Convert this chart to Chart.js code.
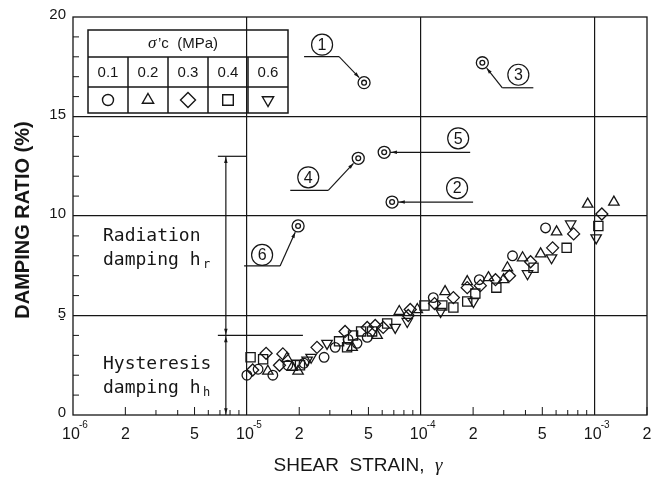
<!DOCTYPE html>
<html><head><meta charset="utf-8">
<script src="https://cdn.jsdelivr.net/npm/chart.js@4/dist/chart.umd.min.js"></script>
<style>html,body{margin:0;padding:0;background:#fff;}</style>
</head><body><canvas id="c" width="662" height="479"></canvas>
<script>
// ---------- data ----------
const stressLevels = ['0.1', '0.2', '0.3', '0.4', '0.6']; // sigma'c (MPa)

const strain01 = [1.0e-5, 1.16e-5, 1.41e-5, 1.72e-5, 2.13e-5, 2.78e-5, 3.22e-5, 3.82e-5, 4.3e-5, 4.92e-5, 1.18e-4, 2.17e-4, 3.37e-4, 5.22e-4];
const damping01 = [2.0, 2.3, 2.0, 2.5, 2.6, 2.9, 3.4, 3.8, 3.6, 3.9, 5.9, 6.8, 8.0, 9.4];

const strain02 = [1.32e-5, 1.70e-5, 1.82e-5, 1.97e-5, 4.03e-5, 5.61e-5, 7.52e-5, 9.55e-5, 1.38e-4, 1.85e-4, 2.45e-4, 2.99e-4, 3.15e-4, 3.85e-4, 4.89e-4, 6.04e-4, 9.12e-4, 1.29e-3];
const damping02 = [2.2, 2.85, 2.4, 2.2, 3.4, 4.0, 5.2, 5.3, 6.2, 6.7, 6.9, 6.8, 7.4, 7.9, 8.1, 9.2, 10.6, 10.7];

const strain03 = [1.08e-5, 1.29e-5, 1.54e-5, 1.61e-5, 2.53e-5, 3.67e-5, 4.92e-5, 5.47e-5, 6.08e-5, 8.47e-5, 8.7e-5, 1.2e-4, 1.54e-4, 1.85e-4, 2.2e-4, 2.69e-4, 3.24e-4, 4.28e-4, 5.73e-4, 7.57e-4, 1.10e-3];
const damping03 = [2.26, 3.1, 2.5, 3.07, 3.4, 4.2, 4.4, 4.5, 4.4, 5.0, 5.3, 5.6, 5.9, 6.4, 6.5, 6.8, 7.0, 7.7, 8.4, 9.1, 10.1];

const strain04 = [1.05e-5, 1.24e-5, 2.02e-5, 3.39e-5, 3.77e-5, 4.08e-5, 4.54e-5, 5.25e-5, 6.41e-5, 1.05e-4, 1.33e-4, 1.54e-4, 1.85e-4, 2.06e-4, 2.72e-4, 4.45e-4, 6.9e-4, 1.05e-3];
const damping04 = [2.9, 2.8, 2.5, 3.7, 3.4, 4.0, 4.2, 4.2, 4.6, 5.5, 5.5, 5.4, 5.7, 6.1, 6.4, 7.4, 8.4, 9.5];

const strain06 = [1.94e-5, 2.22e-5, 2.34e-5, 2.89e-5, 7.13e-5, 8.36e-5, 1.30e-4, 2.01e-4, 4.11e-4, 5.65e-4, 7.28e-4, 1.02e-3];
const damping06 = [2.6, 2.76, 2.9, 3.6, 4.4, 4.7, 5.2, 5.7, 7.1, 7.9, 9.6, 8.9];

// numbered reference points (double circles) 1..6
const specialNumbers = ['1', '2', '3', '4', '5', '6'];
const specialStrain = [4.72e-5, 6.84e-5, 2.26e-4, 4.37e-5, 6.16e-5, 1.97e-5];
const specialDamping = [16.7, 10.7, 17.7, 12.9, 13.2, 9.5];

// axis ticks
const yTickValues = [0, 5, 10, 15, 20];
const xTickValues = [1e-6, 2e-6, 5e-6, 1e-5, 2e-5, 5e-5, 1e-4, 2e-4, 5e-4, 1e-3, 2e-3];
const xTickBase = ['10', '2', '5', '10', '2', '5', '10', '2', '5', '10', '2'];
const xTickExp = ['-6', '', '', '-5', '', '', '-4', '', '', '-3', ''];

// damping-component bracket (strain position, levels)
const bracketStrain = 7.57e-6;
const radiationTop = 13, hysteresisTop = 4;

// ---------- helpers ----------
const pts = (xs, ys) => xs.map((x, i) => ({x: x, y: ys[i]}));
const INK = '#161616';

function decade(v) { const l = Math.log10(v); return Math.abs(l - Math.round(l)) < 1e-6; }
const minorX = [];
for (let e = -6; e <= -3; e++) for (let m = 1; m <= 9; m++) { const v = m * Math.pow(10, e); if (v <= 2.0001e-3) minorX.push(v); }

function arrowHead(ctx, x1, y1, x2, y2, size) {
  const a = Math.atan2(y2 - y1, x2 - x1);
  ctx.beginPath();
  ctx.moveTo(x2, y2);
  ctx.lineTo(x2 - size * Math.cos(a - 0.3), y2 - size * Math.sin(a - 0.3));
  ctx.lineTo(x2 - size * Math.cos(a + 0.3), y2 - size * Math.sin(a + 0.3));
  ctx.closePath();
  ctx.fill();
}
function line(ctx, x1, y1, x2, y2) { ctx.beginPath(); ctx.moveTo(x1, y1); ctx.lineTo(x2, y2); ctx.stroke(); }

function circledNum(ctx, cx, cy, n) {
  ctx.beginPath(); ctx.arc(cx, cy, 10.5, 0, Math.PI * 2); ctx.lineWidth = 1.2; ctx.stroke();
  ctx.font = '16px "Liberation Sans", Arial, sans-serif';
  ctx.textAlign = 'center'; ctx.textBaseline = 'middle';
  ctx.fillText(n, cx, cy + 1);
}

// annotation layout: offsets (px) of label from point, and leader style
const annot = [
  {i: 0, lx: -42, ly: -38, ux1: -60, ux2: -25, uy: -26, type: 'diag'},
  {i: 1, lx: 65, ly: -14, hx: 81, type: 'horiz'},
  {i: 2, lx: 36, ly: 12, ux1: 20, ux2: 51, uy: 25, type: 'diag'},
  {i: 3, lx: -50, ly: 19, ux1: -68, ux2: -30, uy: 32, type: 'diag'},
  {i: 4, lx: 74, ly: -14, hx: 86, type: 'horiz'},
  {i: 5, lx: -36, ly: 29, ux1: -54, ux2: -18, uy: 40, type: 'diag'}
];

const deco = {
  id: 'deco',
  beforeDatasetsDraw(chart) {
    const ctx = chart.ctx, a = chart.chartArea, xs = chart.scales.x, ys = chart.scales.y;
    ctx.save();
    ctx.strokeStyle = INK; ctx.fillStyle = INK; ctx.lineWidth = 1.3;
    // frame
    ctx.strokeRect(a.left, a.top, a.right - a.left, a.bottom - a.top);
    // inward minor ticks
    ctx.lineWidth = 1;
    for (let v = 1; v < 20; v++) { if (v % 5 === 0) continue; const y = ys.getPixelForValue(v); line(ctx, a.left, y, a.left + 6, y); }
    minorX.forEach(v => { if (decade(v)) return; const x = xs.getPixelForValue(v); const m = Math.round(v / Math.pow(10, Math.floor(Math.log10(v) + 1e-9)));
      line(ctx, x, a.bottom, x, a.bottom - ((m === 2 || m === 5) ? 8 : 5)); });
    // y tick labels
    ctx.font = '15px "Liberation Sans", Arial, sans-serif';
    ctx.textAlign = 'right'; ctx.textBaseline = 'middle';
    yTickValues.forEach(v => ctx.fillText(String(v), a.left - 7, ys.getPixelForValue(v) - 2));
    // small stray dash left of the axis
    line(ctx, 60, ys.getPixelForValue(4.8), 64, ys.getPixelForValue(4.8));
    // x tick labels
    xTickValues.forEach((v, i) => {
      const x = xs.getPixelForValue(v), y = a.bottom + 20;
      ctx.font = '16px "Liberation Sans", Arial, sans-serif'; ctx.textAlign = 'center'; ctx.textBaseline = 'middle';
      if (xTickExp[i]) {
        ctx.fillText(xTickBase[i], x - 2, y);
        ctx.font = '10px "Liberation Sans", Arial, sans-serif'; ctx.textAlign = 'left';
        ctx.fillText(xTickExp[i], x + 6, y - 10);
      } else ctx.fillText(xTickBase[i], x, y);
    });
    // axis titles
    const tx = (a.left + a.right) / 2 - 2, ty = 466;
    const t1 = 'SHEAR  STRAIN,  ';
    ctx.textBaseline = 'middle';
    ctx.font = '19px "Liberation Sans", Arial, sans-serif';
    const w1 = ctx.measureText(t1).width;
    ctx.font = 'italic 19px "Liberation Serif", serif';
    const w2 = ctx.measureText('γ').width;
    ctx.textAlign = 'left';
    ctx.font = '19px "Liberation Sans", Arial, sans-serif';
    ctx.fillText(t1, tx - (w1 + w2) / 2, ty);
    ctx.font = 'italic 19px "Liberation Serif", serif';
    ctx.fillText('γ', tx - (w1 + w2) / 2 + w1, ty);
    ctx.save(); ctx.translate(23, 220); ctx.rotate(-Math.PI / 2);
    ctx.font = 'bold 20px "Liberation Sans", Arial, sans-serif'; ctx.textAlign = 'center';
    ctx.fillText('DAMPING RATIO (%)', 0, 0);
    ctx.restore();

    // legend table
    const cols = [88, 128, 168, 208, 248, 288], rows = [30, 57, 87, 113];
    ctx.lineWidth = 1.5;
    ctx.strokeRect(cols[0], rows[0], cols[5] - cols[0], rows[3] - rows[0]);
    line(ctx, cols[0], rows[1], cols[5], rows[1]);
    line(ctx, cols[0], rows[2], cols[5], rows[2]);
    for (let k = 1; k < 5; k++) line(ctx, cols[k], rows[1], cols[k], rows[3]);
    ctx.font = 'italic 17px "Liberation Serif", serif'; ctx.textAlign = 'left'; ctx.textBaseline = 'middle';
    ctx.fillText('σ', 148, 44);
    ctx.font = '15px "Liberation Sans", Arial, sans-serif';
    ctx.fillText('\u2019c  (MPa)', 158, 44);
    ctx.textAlign = 'center';
    stressLevels.forEach((s, k) => ctx.fillText(s, (cols[k] + cols[k + 1]) / 2, (rows[1] + rows[2]) / 2 + 1));
    const styles = ['circle', 'triangle', 'rectRot', 'rect', 'triangle'];
    const rads = [5.5, 6.5, 7.5, 7.5, 6.5];
    ctx.fillStyle = 'rgba(0,0,0,0)';
    ctx.lineWidth = 1.4;
    styles.forEach((st, k) => {
      Chart.helpers.drawPoint(ctx, {pointStyle: st, radius: rads[k], borderWidth: 1.4, rotation: k === 4 ? 180 : 0}, (cols[k] + cols[k + 1]) / 2, (rows[2] + rows[3]) / 2);
    });
    ctx.fillStyle = INK;

    // damping bracket
    const bx = xs.getPixelForValue(bracketStrain);
    const yR = ys.getPixelForValue(radiationTop), yH = ys.getPixelForValue(hysteresisTop), y0 = ys.getPixelForValue(0);
    ctx.lineWidth = 1.2;
    line(ctx, bx - 8, yR, xs.getPixelForValue(1e-5), yR);
    line(ctx, bx - 8, yH, xs.getPixelForValue(2.1e-5), yH);
    line(ctx, bx, yR, bx, y0);
    arrowHead(ctx, bx, yR + 10, bx, yR + 1, 6);
    arrowHead(ctx, bx, yH - 10, bx, yH - 1, 6);
    arrowHead(ctx, bx, yH + 10, bx, yH + 1, 6);
    arrowHead(ctx, bx, y0 - 10, bx, y0 - 1, 6);
    ctx.font = '18px "DejaVu Sans Mono", monospace'; ctx.textAlign = 'left'; ctx.textBaseline = 'middle';
    ctx.fillText('Radiation', 103, 236);
    ctx.fillText('damping h', 103, 260);
    ctx.font = '12px "DejaVu Sans Mono", monospace';
    ctx.fillText('r', 203, 265);
    ctx.font = '18px "DejaVu Sans Mono", monospace';
    ctx.fillText('Hysteresis', 103, 364);
    ctx.fillText('damping h', 103, 388);
    ctx.font = '12px "DejaVu Sans Mono", monospace';
    ctx.fillText('h', 203, 393);

    // numbered points annotations
    ctx.lineWidth = 1.1;
    annot.forEach(an => {
      const px = xs.getPixelForValue(specialStrain[an.i]), py = ys.getPixelForValue(specialDamping[an.i]);
      if (an.type === 'horiz') {
        line(ctx, px + 6, py, px + an.hx, py);
        arrowHead(ctx, px + 16, py, px + 7, py, 6);
      } else {
        const ex = an.ux2 > 0 ? px + an.ux1 : px + an.ux2;
        const ey = py + an.uy;
        line(ctx, px + an.ux1, ey, px + an.ux2, ey);
        const ang = Math.atan2(py - ey, px - ex);
        const sx = px - Math.cos(ang) * 7, sy = py - Math.sin(ang) * 7;
        line(ctx, ex, ey, sx, sy);
        arrowHead(ctx, ex, ey, sx, sy, 6);
      }
      circledNum(ctx, px + an.lx, py + an.ly, specialNumbers[an.i]);
    });
    ctx.restore();
  }
};

const common = {showLine: false, borderColor: INK, backgroundColor: 'rgba(0,0,0,0)', pointBorderWidth: 1.3};
new Chart(document.getElementById('c'), {
  type: 'scatter',
  data: {datasets: [
    Object.assign({label: stressLevels[0], data: pts(strain01, damping01), pointStyle: 'circle', pointRadius: 4.8}, common),
    Object.assign({label: stressLevels[1], data: pts(strain02, damping02), pointStyle: 'triangle', pointRadius: 6}, common),
    Object.assign({label: stressLevels[2], data: pts(strain03, damping03), pointStyle: 'rectRot', pointRadius: 6}, common),
    Object.assign({label: stressLevels[3], data: pts(strain04, damping04), pointStyle: 'rect', pointRadius: 6.5}, common),
    Object.assign({label: stressLevels[4], data: pts(strain06, damping06), pointStyle: 'triangle', pointRotation: 180, pointRadius: 6}, common),
    Object.assign({label: 'special', data: pts(specialStrain, specialDamping), pointStyle: 'circle', pointRadius: 6}, common),
    Object.assign({label: 'special-inner', data: pts(specialStrain, specialDamping), pointStyle: 'circle', pointRadius: 2.4}, common)
  ]},
  options: {
    responsive: false, animation: false, devicePixelRatio: 1,
    layout: {padding: {left: 73, right: 15, top: 17, bottom: 64}},
    plugins: {legend: {display: false}, tooltip: {enabled: false}},
    scales: {
      x: {type: 'logarithmic', min: 1e-6, max: 2e-3,
        afterBuildTicks: s => { s.ticks = minorX.map(v => ({value: v})); },
        ticks: {display: false},
        grid: {color: c => (c.tick && decade(c.tick.value) && c.tick.value > 1.5e-6) ? INK : 'rgba(0,0,0,0)', lineWidth: 1.2, drawTicks: false},
        border: {display: false},
        afterFit: s => { s.height = 0; }},
      y: {min: 0, max: 20,
        afterBuildTicks: s => { s.ticks = [5, 10, 15].map(v => ({value: v})); },
        ticks: {display: false},
        grid: {color: INK, lineWidth: 1.2, drawTicks: false},
        border: {display: false},
        afterFit: s => { s.width = 0; }}
    }
  },
  plugins: [deco]
});
</script>
</body></html>
